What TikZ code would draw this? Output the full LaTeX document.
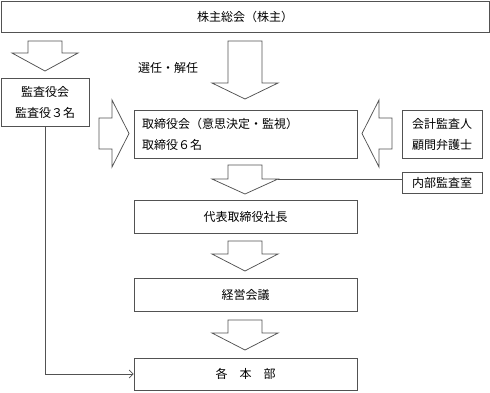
\documentclass[tikz,border=0pt]{standalone}
\usepackage{fontspec}
\setmainfont{Noto Sans CJK JP}
\usetikzlibrary{arrows.meta}
\tikzset{
  lc/.style={draw=black!68, line width=0.75pt},
  box/.style={lc, rectangle, inner sep=0pt, align=center, font=\fontsize{12}{21}\selectfont},
  blockarrow/.style={lc, line join=miter},
  pics/downarr/.style 2 args={code={
    \draw[blockarrow] (-17,0) -- (17,0) -- (17,#1) -- (33,#1) -- (0,{#1+#2}) -- (-33,#1) -- (-17,#1) -- cycle;
    \coordinate (-rc) at (33,#1);
  }},
  pics/rightarr/.style={code={
    \draw[blockarrow] (0,-15.5) -- (13,-15.5) -- (13,-33.5) -- (30,0) -- (13,33.5) -- (13,15.5) -- (0,15.5) -- cycle;
  }},
}
\begin{document}
\begin{tikzpicture}[x=1pt,y=-1pt]
\useasboundingbox (0,0) rectangle (490,392);
% boxes
\node[box, minimum width=488, minimum height=31] (top) at (245,16.5) {株主総会（株主）};
\node[box, minimum width=88, minimum height=48] (kansa) at (45,102) {監査役会\\監査役３名};
\node[box, minimum width=223, minimum height=48, text width=207, inner xsep=8, align=left] (tori) at (245.5,134) {取締役会（意思決定・監視）\\取締役６名};
\node[box, minimum width=80, minimum height=48] (kaikei) at (442,134) {会計監査人\\顧問弁護士};
\node[box, minimum width=80, minimum height=21] (naibu) at (442,182.5) {内部監査室};
\node[box, minimum width=223, minimum height=33] (daihyo) at (245.5,216.5) {代表取締役社長};
\node[box, minimum width=223, minimum height=33] (keiei) at (245.5,294.5) {経営会議};
\node[box, minimum width=223, minimum height=32] (honbu) at (245.5,374) {各　本　部};
\node[font=\fontsize{12}{14}\selectfont, anchor=west, inner sep=0pt] (senin) at (138,68) {選任・解任};
% block arrows
\pic (a1) at (45,41) {downarr={12}{18}};
\pic (a2) at (245,41) {downarr={42}{16}};
\pic (a3) at (245,165) {downarr={14}{15}};
\pic (a4) at (245,241) {downarr={13}{17}};
\pic (a5) at (245,320) {downarr={13}{17}};
\pic (ar) at (99,133.5) {rightarr};
\pic[xscale=-1] (al) at (392,133.5) {rightarr};
% connectors
\draw[lc] (a3-rc) -- (a3-rc -| naibu.west);
\draw[lc, -{Straight Barb[length=4pt,width=8pt]}] (kansa.south) |- (honbu.west);
\end{tikzpicture}
\end{document}
